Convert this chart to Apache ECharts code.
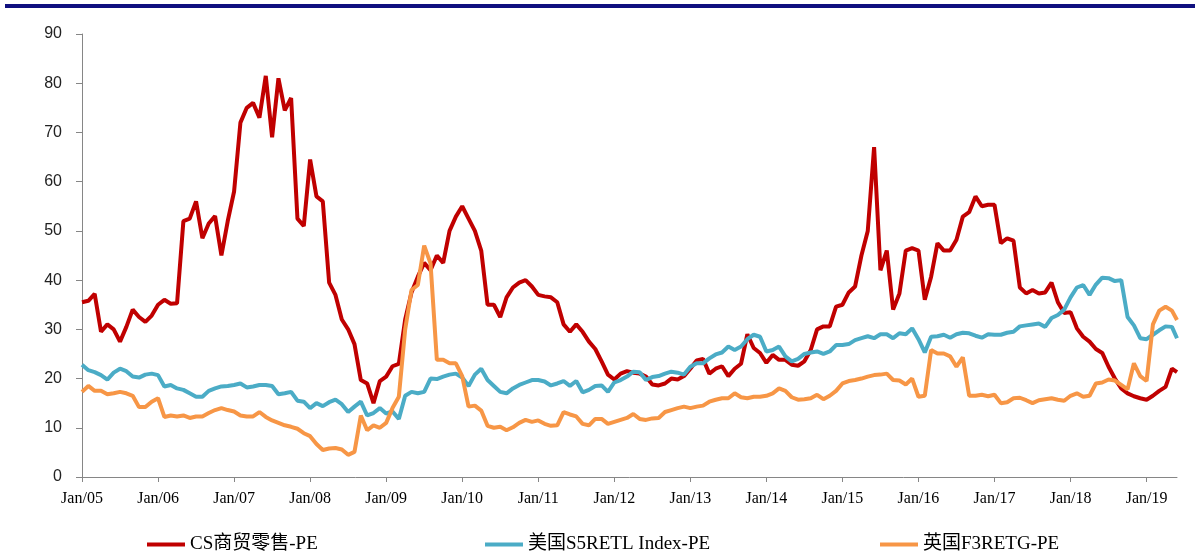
<!DOCTYPE html>
<html>
<head>
<meta charset="utf-8">
<script src="https://cdn.jsdelivr.net/npm/echarts@6/dist/echarts.min.js"></script>
<style>html,body{margin:0;padding:0;background:#fff;}#c{width:1195px;height:556px;}</style>
</head>
<body>
<div id="c"></div>
<script>
// x positions: months since Jan 2005 (monthly readings, last point late May 2019)
const months = Array.from({length: 173}, (_, i) => i).concat([172.8]);
const tickLabels = ['Jan/05','Jan/06','Jan/07','Jan/08','Jan/09','Jan/10','Jan/11','Jan/12','Jan/13','Jan/14','Jan/15','Jan/16','Jan/17','Jan/18','Jan/19'];
const seriesNames = ['CS商贸零售-PE', '美国S5RETL Index-PE', '英国F3RETG-PE'];

const csRetailPE = [
  35.5,35.8,37.2,29.5,31,30,27.5,30.5,34,32.5,31.5,32.8,
  35,36,35.2,35.3,52,52.5,56,48.5,51.5,53,45,52,
  58,72,75,76,73,81.5,69,81,74.5,77,52.5,51,
  64.5,57,56,39.5,37,32,30,27,19.7,19,15,19.5,
  20.4,22.5,23,32,37.5,40.7,43.5,42,45,43.5,50,52.9,
  55,52.5,50,46,35,35,32.5,36.5,38.5,39.5,40,38.7,
  37,36.7,36.5,35.5,31,29.5,31,29.5,27.5,26,23.5,20.8,
  19.8,21,21.5,21.2,21,20.4,18.8,18.6,19,20,19.8,20.5,
  22,23.7,24,21,22,22.5,20.5,22,23,29,26.2,25.2,
  23.2,24.8,23.8,23.8,22.8,22.6,23.5,25.8,30,30.6,30.6,34.6,
  35,37.5,38.7,45,50,67,42,46,34,37.3,46,46.5,
  46,36,40.7,47.5,46,46,48.2,52.9,53.8,57,55,55.3,
  55.3,47.5,48.5,48,38.5,37.3,38,37.3,37.5,39.5,35.5,33.3,
  33.5,30.2,28.5,27.5,26,25.2,22.4,20,18,17,16.4,16,
  15.7,16.5,17.5,18.3,22,21.3
];
const usRetailPE = [
  22.8,21.7,21.3,20.7,19.8,21.2,22,21.5,20.4,20.2,20.8,21,
  20.7,18.4,18.7,18,17.7,17,16.3,16.3,17.5,18,18.4,18.5,
  18.7,19,18.2,18.4,18.7,18.7,18.5,16.8,17,17.3,15.5,15.3,
  14,15,14.4,15.2,15.7,14.8,13.2,14.3,15.3,12.5,13,14,
  12.9,13.3,11.8,16.5,17.3,17,17.3,20,19.9,20.4,20.8,21,
  20.2,18.5,20.8,22,19.7,18.5,17.3,17,18,18.7,19.2,19.7,
  19.7,19.4,18.6,19,19.5,18.5,19.5,17.2,17.7,18.5,18.6,17.3,
  19.2,19.7,20.4,21.4,21.3,19.7,20.3,20.5,21,21.4,21.2,20.8,
  22.4,23.1,23.1,24.1,24.9,25.3,26.5,25.8,26.5,28,28.9,28.5,
  25.5,25.8,26.5,24.5,23.5,24,25,25.3,25.5,25,25.5,26.8,
  26.8,27,27.8,28.2,28.6,28.2,29,29,28.2,29.2,29,30.2,
  28,25.3,28.5,28.6,28.9,28.3,29,29.3,29.2,28.7,28.3,29,
  28.9,28.9,29.3,29.5,30.6,30.8,31,31.2,30.5,32.3,32.9,34,
  36.5,38.5,39,37,39.1,40.5,40.4,39.8,40,32.5,30.8,28.2,
  28,28.9,29.8,30.6,30.5,28.2
];
const ukRetailPE = [
  17.3,18.5,17.5,17.5,16.8,17,17.3,17,16.5,14.2,14.2,15.3,
  16,12.2,12.5,12.3,12.5,12,12.3,12.3,13,13.6,14,13.6,
  13.3,12.5,12.3,12.3,13.2,12.2,11.5,11,10.5,10.2,9.8,8.9,
  8.3,6.7,5.5,5.8,5.9,5.6,4.5,5.1,12.5,9.5,10.5,10,
  11,14,16.3,30,38,39,47,43.4,23.8,23.8,23.1,23.1,
  20.5,14.3,14.5,13.5,10.4,10,10.2,9.5,10.1,11,11.6,11.2,
  11.5,10.8,10.4,10.5,13.2,12.7,12.3,10.8,10.5,11.8,11.8,10.8,
  11.2,11.6,12,12.8,11.8,11.6,11.9,12,13.2,13.6,14,14.3,
  14,14.3,14.5,15.3,15.7,16,16,17,16.2,16,16.3,16.3,
  16.5,17,18,17.5,16.2,15.7,15.8,16,16.7,15.8,16.5,17.5,
  19,19.5,19.7,20,20.4,20.7,20.8,21,19.7,19.6,18.8,20,
  16.3,16.5,25.8,25.1,25.1,24.5,22.4,24.3,16.5,16.5,16.7,16.4,
  16.7,15,15.2,16,16.1,15.6,15,15.6,15.8,16,15.7,15.5,
  16.5,17,16.3,16.5,19,19.2,19.8,19.6,18.7,17.8,23.1,20.5,
  19.5,31,33.8,34.6,33.8,31.9
];

const colors = ['#c00000', '#4bacc6', '#f79646'];
const pair = vals => vals.map((v, i) => [months[i], v]);

const chart = echarts.init(document.getElementById('c'), null, {renderer: 'canvas'});
const legendText = {fontFamily: '"Liberation Serif", "Noto Sans CJK SC", serif', fontSize: 19, color: '#000'};
const mkLegend = (name, left) => ({
  data: [name], left: left, top: 535, padding: 0, icon: 'rect', itemWidth: 38, itemHeight: 4,
  textStyle: legendText, selectedMode: false
});
chart.setOption({
  animation: false,
  backgroundColor: '#fff',
  graphic: [{type: 'rect', left: 5, top: 4, shape: {width: 1190, height: 4}, style: {fill: '#10107f'}}],
  grid: {left: 82, right: 18, top: 34, bottom: 79},
  legend: [mkLegend(seriesNames[0], 147), mkLegend(seriesNames[1], 485), mkLegend(seriesNames[2], 880)],
  xAxis: {
    type: 'value', min: 0, max: 172.8, interval: 12,
    axisLine: {show: true, lineStyle: {color: '#868686', width: 1}},
    axisTick: {show: true, length: 5, lineStyle: {color: '#868686'}},
    splitLine: {show: false},
    axisLabel: {
      margin: 14, color: '#000', fontSize: 16, fontFamily: '"Liberation Serif", serif',
      formatter: v => tickLabels[Math.round(v / 12)] || '', showMaxLabel: false
    }
  },
  yAxis: {
    type: 'value', min: 0, max: 90, interval: 10,
    axisLine: {show: true, lineStyle: {color: '#868686', width: 1}},
    axisTick: {show: true, length: 6, lineStyle: {color: '#868686'}},
    splitLine: {show: false},
    axisLabel: {margin: 20, color: '#222', fontSize: 16, fontFamily: '"Liberation Sans", Arial, sans-serif'}
  },
  series: seriesNames.map((name, k) => ({
    name: name, type: 'line', showSymbol: false, symbol: 'none',
    data: pair([csRetailPE, usRetailPE, ukRetailPE][k]),
    lineStyle: {color: colors[k], width: 4}, itemStyle: {color: colors[k]},
    z: 2 + k
  }))
});
</script>
</body>
</html>
